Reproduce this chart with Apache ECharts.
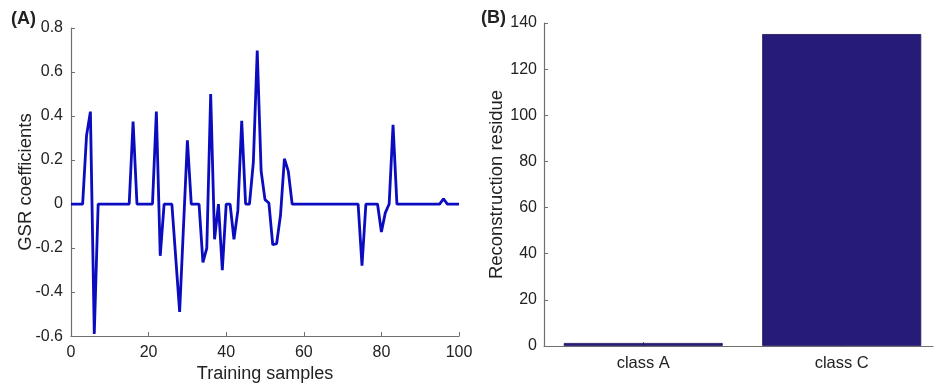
<!DOCTYPE html>
<html><head><meta charset="utf-8">
<script src="https://cdn.jsdelivr.net/npm/echarts@6/dist/echarts.min.js"></script>
<style>html,body{margin:0;padding:0;background:#fff}#c{width:950px;height:388px}</style>
</head><body><div id="c"></div>
<script>
// Panel A: GSR coefficients (vertices of the polyline)
var sampleX = [0,3,4,5,6,7,15,16,17,21,22,23,24,26,28,30,31,33,34,35,36,37,38,39,40,41,42,43,44,45,46,47,48,49,50,51,52,53,54,55,56,57,74,75,76,79,80,81,82,83,84,95,96,97,100];
var gsrCoef = [0,0,0.31,0.42,-0.59,0,0,0.375,0,0,0.42,-0.235,0,0,-0.49,0.29,0,0,-0.265,-0.2,0.50,-0.16,0,-0.30,0,0,-0.16,-0.03,0.378,0,0,0.19,0.697,0.15,0.02,0.005,-0.185,-0.18,-0.05,0.206,0.15,0,0,-0.28,0,0,-0.127,-0.04,0,0.36,0,0,0.024,0,0];
var xTicksA = [0, 100, 20];
var yTicksA = [-0.6, 0.8, 0.2];
// Panel B
var classes = ['class A', 'class C'];
var classPos = [1, 2];
var residue = [1.3, 135.2];
var yTicksB = [0, 140, 20];

var font = 'Liberation Sans, Arial, sans-serif';
var axisGray = '#707070';
var txt = '#222';
var lineData = sampleX.map(function(x, i){ return [x, gsrCoef[i]]; });
var barData = classPos.map(function(p, i){ return [p, residue[i]]; });

var chart = echarts.init(document.getElementById('c'), null, {renderer:'canvas'});
chart.setOption({
  animation: false,
  backgroundColor: '#fff',
  graphic: [
    {type:'text', left: 11, top: 10, style:{text:'(A)', font:'bold 18px ' + font, fill:'#222'}},
    {type:'text', left: 481, top: 9, style:{text:'(B)', font:'bold 18px ' + font, fill:'#222'}}
  ],
  grid: [
    {left: 71, right: 491, top: 28, bottom: 48},
    {left: 544, right: 17, top: 23, bottom: 42}
  ],
  xAxis: [
    {gridIndex:0, type:'value', min:xTicksA[0], max:xTicksA[1], interval:xTicksA[2],
     name:'Training samples', nameLocation:'middle', nameGap:23,
     nameTextStyle:{fontFamily:font, fontSize:18, color:txt},
     axisLine:{onZero:false, lineStyle:{color:axisGray, width:1.2}},
     axisTick:{inside:true, length:4, lineStyle:{color:axisGray}},
     axisLabel:{fontFamily:font, fontSize:16, color:txt, margin:8},
     splitLine:{show:false}},
    {gridIndex:1, type:'value', min:0.5, max:2.46,
     axisLine:{onZero:false, lineStyle:{color:axisGray, width:1.2}},
     axisTick:{inside:true, length:4, customValues:classPos, lineStyle:{color:axisGray}},
     axisLabel:{fontFamily:font, fontSize:16.5, color:txt, margin:9, customValues:classPos,
       formatter:function(v){ var i = classPos.indexOf(Math.round(v)); return i >= 0 ? classes[i] : ''; }},
     splitLine:{show:false}}
  ],
  yAxis: [
    {gridIndex:0, type:'value', min:yTicksA[0], max:yTicksA[1], interval:yTicksA[2],
     name:'GSR coefficients', nameLocation:'middle', nameGap:36, nameRotate:90, nameMoveOverlap:false,
     nameTextStyle:{fontFamily:font, fontSize:18.5, color:txt},
     axisLine:{show:true, onZero:false, lineStyle:{color:axisGray, width:1.2}},
     axisTick:{show:true, inside:true, length:4, lineStyle:{color:axisGray}},
     axisLabel:{fontFamily:font, fontSize:16, color:txt, margin:8,
       formatter:function(v){ var r = Math.round(v*10)/10; return r === 0 ? '0' : String(r); }},
     splitLine:{show:false}},
    {gridIndex:1, type:'value', min:yTicksB[0], max:yTicksB[1], interval:yTicksB[2],
     name:'Reconstruction residue', nameLocation:'middle', nameGap:37, nameRotate:90,
     nameTextStyle:{fontFamily:font, fontSize:18.5, color:txt},
     axisLine:{show:true, onZero:false, lineStyle:{color:axisGray, width:1.2}},
     axisTick:{show:true, inside:true, length:4, lineStyle:{color:axisGray}},
     axisLabel:{fontFamily:font, fontSize:16, color:txt, margin:7},
     splitLine:{show:false}}
  ],
  series: [
    {type:'line', xAxisIndex:0, yAxisIndex:0, data:lineData, showSymbol:false,
     lineStyle:{color:'#0b0bbf', width:2.8}, silent:true, clip:false},
    {type:'bar', xAxisIndex:1, yAxisIndex:1, data:barData, barWidth:159,
     itemStyle:{color:'#261b79', borderColor:'#1c145e', borderWidth:0.8}, silent:true}
  ]
});
</script></body></html>
